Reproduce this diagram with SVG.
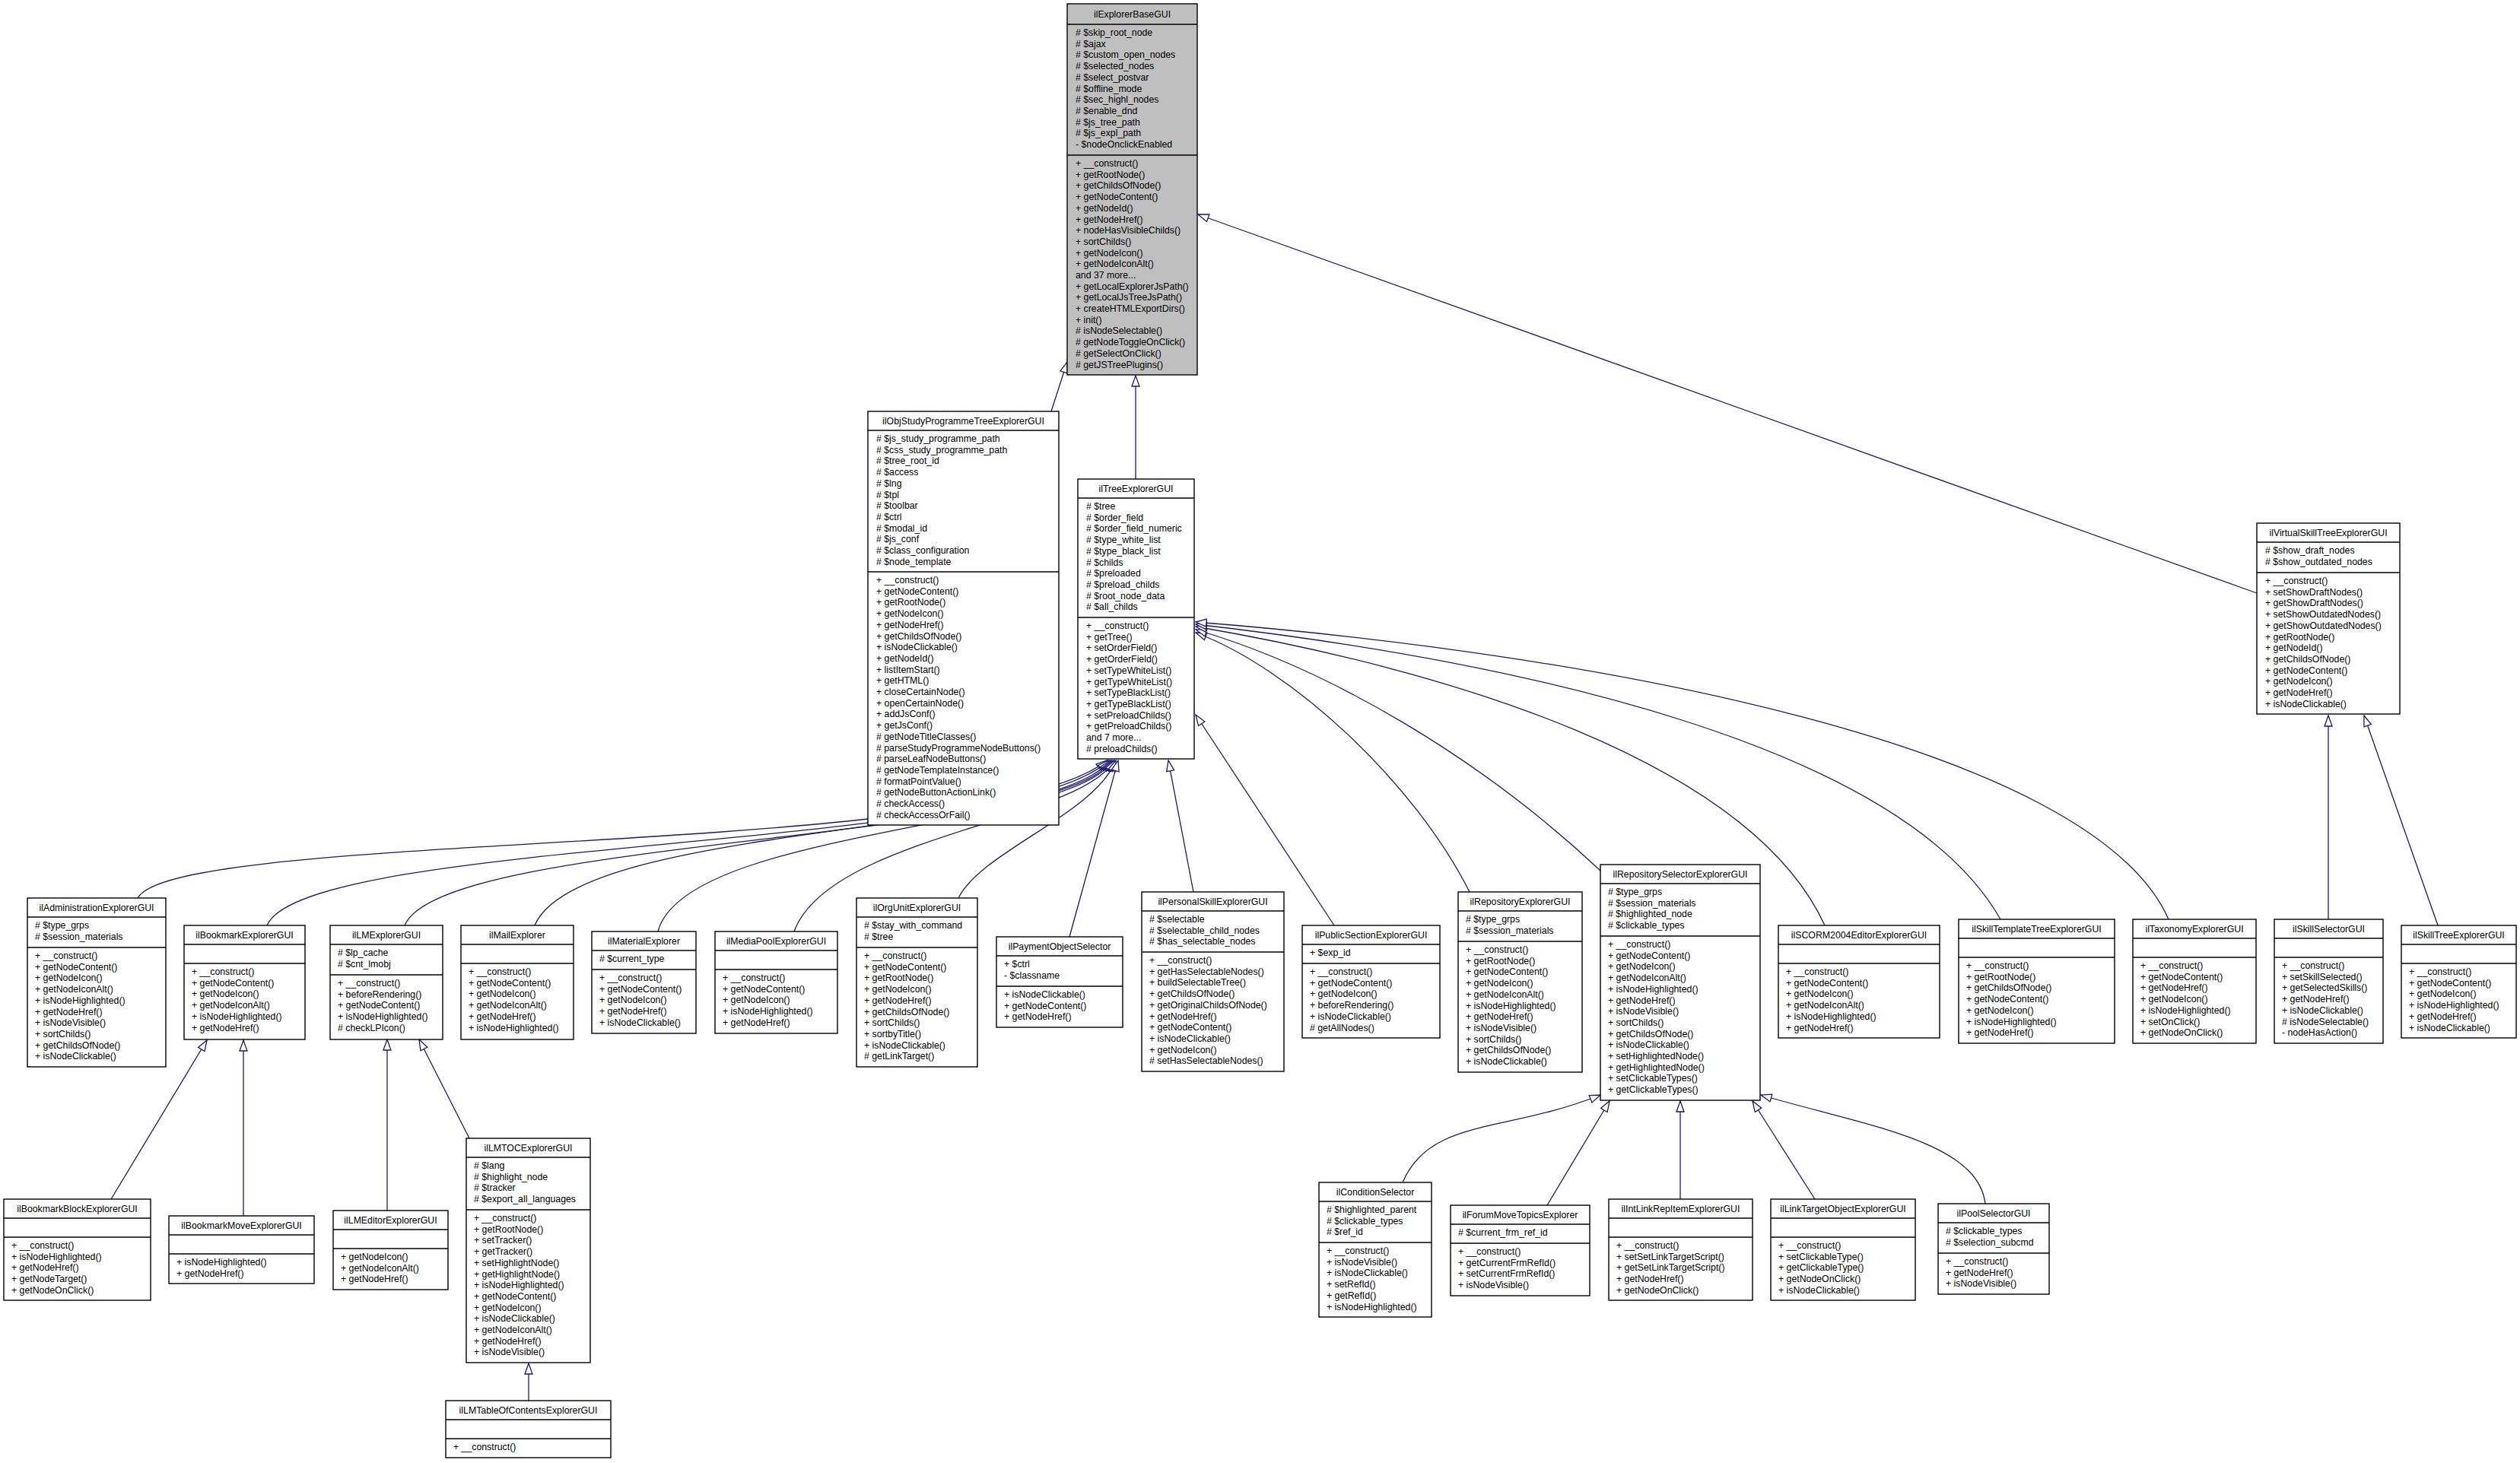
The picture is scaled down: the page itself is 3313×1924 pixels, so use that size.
<svg xmlns="http://www.w3.org/2000/svg" width="3313" height="1924" viewBox="0 0 3313 1924">
<style>
text{font-family:"Liberation Sans",Arial,sans-serif;font-size:12.3px;fill:#000}
.c{text-anchor:middle}
rect{fill:#fff;stroke:#000;stroke-width:1.4}
rect.g{fill:#bfbfbf}
line.s{stroke:#000;stroke-width:1.4}
#edges path{fill:none;stroke:#191970;stroke-width:1.3}
</style>
<defs>
<marker id="tri" markerUnits="userSpaceOnUse" markerWidth="16" markerHeight="12" refX="15" refY="6" orient="auto">
<path d="M1,1 L15,6 L1,11 Z" fill="#fff" stroke="#191970" stroke-width="1.3"/>
</marker>
</defs>
<g id="edges">
<path d="M1382,541 L1403,476" marker-end="url(#tri)"/>
<path d="M1493,630 L1493,494" marker-end="url(#tri)"/>
<path d="M2967,780 L1575,282" marker-end="url(#tri)"/>
<path d="M181,1181 C230,1090 1300,1130 1455,1000" marker-end="url(#tri)"/>
<path d="M351,1217 C400,1100 1340,1120 1457,1000" marker-end="url(#tri)"/>
<path d="M532,1217 C580,1100 1380,1110 1459,1000" marker-end="url(#tri)"/>
<path d="M703,1217 C760,1080 1400,1100 1461,1000" marker-end="url(#tri)"/>
<path d="M865,1225 C900,1090 1410,1090 1463,1000" marker-end="url(#tri)"/>
<path d="M1044,1225 C1090,1100 1420,1080 1465,1000" marker-end="url(#tri)"/>
<path d="M1260,1181 C1290,1120 1440,1070 1467,1000" marker-end="url(#tri)"/>
<path d="M1406,1232 L1470,1000" marker-end="url(#tri)"/>
<path d="M1569,1173 L1536,1000" marker-end="url(#tri)"/>
<path d="M1754,1217 L1572,940" marker-end="url(#tri)"/>
<path d="M1932,1173 C1860,1030 1700,880 1572,832" marker-end="url(#tri)"/>
<path d="M2104,1145 C1950,1000 1750,880 1572,828" marker-end="url(#tri)"/>
<path d="M2399,1217 C2300,1000 1900,880 1572,824" marker-end="url(#tri)"/>
<path d="M2630,1209 C2500,980 2000,870 1572,821" marker-end="url(#tri)"/>
<path d="M2851,1209 C2750,980 2100,860 1572,818" marker-end="url(#tri)"/>
<path d="M3061,1209 L3061,941" marker-end="url(#tri)"/>
<path d="M3205,1217 L3108,941" marker-end="url(#tri)"/>
<path d="M146,1577 L272,1368" marker-end="url(#tri)"/>
<path d="M320,1599 L320,1368" marker-end="url(#tri)"/>
<path d="M509,1592 L509,1367" marker-end="url(#tri)"/>
<path d="M617,1497 L551,1367" marker-end="url(#tri)"/>
<path d="M695,1842 L695,1793" marker-end="url(#tri)"/>
<path d="M1844,1555 C1880,1470 1980,1490 2104,1440" marker-end="url(#tri)"/>
<path d="M2034,1585 L2116,1448" marker-end="url(#tri)"/>
<path d="M2209,1577 L2209,1448" marker-end="url(#tri)"/>
<path d="M2386,1577 L2304,1448" marker-end="url(#tri)"/>
<path d="M2610,1583 C2600,1500 2450,1480 2315,1440" marker-end="url(#tri)"/>
</g>

<g id="ilExplorerBaseGUI">
<rect class="g" x="1403" y="5" width="171" height="488"/>
<line class="s" x1="1403" y1="32" x2="1574" y2="32"/><line class="s" x1="1403" y1="204" x2="1574" y2="204"/>
<text class="c" x="1488.5" y="23">ilExplorerBaseGUI</text>
<text x="1414" y="47"><tspan x="1414">&#35; $skip_root_node</tspan><tspan x="1414" dy="14.7"># $ajax</tspan><tspan x="1414" dy="14.7"># $custom_open_nodes</tspan><tspan x="1414" dy="14.7"># $selected_nodes</tspan><tspan x="1414" dy="14.7"># $select_postvar</tspan><tspan x="1414" dy="14.7"># $offline_mode</tspan><tspan x="1414" dy="14.7"># $sec_highl_nodes</tspan><tspan x="1414" dy="14.7"># $enable_dnd</tspan><tspan x="1414" dy="14.7"># $js_tree_path</tspan><tspan x="1414" dy="14.7"># $js_expl_path</tspan><tspan x="1414" dy="14.7">- $nodeOnclickEnabled</tspan></text>
<text x="1414" y="219"><tspan x="1414">+ __construct()</tspan><tspan x="1414" dy="14.7">+ getRootNode()</tspan><tspan x="1414" dy="14.7">+ getChildsOfNode()</tspan><tspan x="1414" dy="14.7">+ getNodeContent()</tspan><tspan x="1414" dy="14.7">+ getNodeId()</tspan><tspan x="1414" dy="14.7">+ getNodeHref()</tspan><tspan x="1414" dy="14.7">+ nodeHasVisibleChilds()</tspan><tspan x="1414" dy="14.7">+ sortChilds()</tspan><tspan x="1414" dy="14.7">+ getNodeIcon()</tspan><tspan x="1414" dy="14.7">+ getNodeIconAlt()</tspan><tspan x="1414" dy="14.7">and 37 more...</tspan><tspan x="1414" dy="14.7">+ getLocalExplorerJsPath()</tspan><tspan x="1414" dy="14.7">+ getLocalJsTreeJsPath()</tspan><tspan x="1414" dy="14.7">+ createHTMLExportDirs()</tspan><tspan x="1414" dy="14.7">+ init()</tspan><tspan x="1414" dy="14.7"># isNodeSelectable()</tspan><tspan x="1414" dy="14.7"># getNodeToggleOnClick()</tspan><tspan x="1414" dy="14.7"># getSelectOnClick()</tspan><tspan x="1414" dy="14.7"># getJSTreePlugins()</tspan></text>
</g>

<g id="ilObjStudyProgrammeTreeExplorerGUI">
<rect x="1141" y="541" width="251" height="544"/>
<line class="s" x1="1141" y1="566" x2="1392" y2="566"/><line class="s" x1="1141" y1="752" x2="1392" y2="752"/>
<text class="c" x="1266.5" y="558">ilObjStudyProgrammeTreeExplorerGUI</text>
<text x="1152" y="581"><tspan x="1152"># $js_study_programme_path</tspan><tspan x="1152" dy="14.7"># $css_study_programme_path</tspan><tspan x="1152" dy="14.7"># $tree_root_id</tspan><tspan x="1152" dy="14.7"># $access</tspan><tspan x="1152" dy="14.7"># $lng</tspan><tspan x="1152" dy="14.7"># $tpl</tspan><tspan x="1152" dy="14.7"># $toolbar</tspan><tspan x="1152" dy="14.7"># $ctrl</tspan><tspan x="1152" dy="14.7"># $modal_id</tspan><tspan x="1152" dy="14.7"># $js_conf</tspan><tspan x="1152" dy="14.7"># $class_configuration</tspan><tspan x="1152" dy="14.7"># $node_template</tspan></text>
<text x="1152" y="767"><tspan x="1152">+ __construct()</tspan><tspan x="1152" dy="14.7">+ getNodeContent()</tspan><tspan x="1152" dy="14.7">+ getRootNode()</tspan><tspan x="1152" dy="14.7">+ getNodeIcon()</tspan><tspan x="1152" dy="14.7">+ getNodeHref()</tspan><tspan x="1152" dy="14.7">+ getChildsOfNode()</tspan><tspan x="1152" dy="14.7">+ isNodeClickable()</tspan><tspan x="1152" dy="14.7">+ getNodeId()</tspan><tspan x="1152" dy="14.7">+ listItemStart()</tspan><tspan x="1152" dy="14.7">+ getHTML()</tspan><tspan x="1152" dy="14.7">+ closeCertainNode()</tspan><tspan x="1152" dy="14.7">+ openCertainNode()</tspan><tspan x="1152" dy="14.7">+ addJsConf()</tspan><tspan x="1152" dy="14.7">+ getJsConf()</tspan><tspan x="1152" dy="14.7"># getNodeTitleClasses()</tspan><tspan x="1152" dy="14.7"># parseStudyProgrammeNodeButtons()</tspan><tspan x="1152" dy="14.7"># parseLeafNodeButtons()</tspan><tspan x="1152" dy="14.7"># getNodeTemplateInstance()</tspan><tspan x="1152" dy="14.7"># formatPointValue()</tspan><tspan x="1152" dy="14.7"># getNodeButtonActionLink()</tspan><tspan x="1152" dy="14.7"># checkAccess()</tspan><tspan x="1152" dy="14.7"># checkAccessOrFail()</tspan></text>
</g>

<g id="ilTreeExplorerGUI">
<rect x="1417" y="630" width="153" height="368"/>
<line class="s" x1="1417" y1="655" x2="1570" y2="655"/><line class="s" x1="1417" y1="812" x2="1570" y2="812"/>
<text class="c" x="1493.5" y="647">ilTreeExplorerGUI</text>
<text x="1428" y="670"><tspan x="1428"># $tree</tspan><tspan x="1428" dy="14.7"># $order_field</tspan><tspan x="1428" dy="14.7"># $order_field_numeric</tspan><tspan x="1428" dy="14.7"># $type_white_list</tspan><tspan x="1428" dy="14.7"># $type_black_list</tspan><tspan x="1428" dy="14.7"># $childs</tspan><tspan x="1428" dy="14.7"># $preloaded</tspan><tspan x="1428" dy="14.7"># $preload_childs</tspan><tspan x="1428" dy="14.7"># $root_node_data</tspan><tspan x="1428" dy="14.7"># $all_childs</tspan></text>
<text x="1428" y="827"><tspan x="1428">+ __construct()</tspan><tspan x="1428" dy="14.7">+ getTree()</tspan><tspan x="1428" dy="14.7">+ setOrderField()</tspan><tspan x="1428" dy="14.7">+ getOrderField()</tspan><tspan x="1428" dy="14.7">+ setTypeWhiteList()</tspan><tspan x="1428" dy="14.7">+ getTypeWhiteList()</tspan><tspan x="1428" dy="14.7">+ setTypeBlackList()</tspan><tspan x="1428" dy="14.7">+ getTypeBlackList()</tspan><tspan x="1428" dy="14.7">+ setPreloadChilds()</tspan><tspan x="1428" dy="14.7">+ getPreloadChilds()</tspan><tspan x="1428" dy="14.7">and 7 more...</tspan><tspan x="1428" dy="14.7"># preloadChilds()</tspan></text>
</g>

<g id="ilVirtualSkillTreeExplorerGUI">
<rect x="2967" y="688" width="188" height="251"/>
<line class="s" x1="2967" y1="713" x2="3155" y2="713"/><line class="s" x1="2967" y1="753" x2="3155" y2="753"/>
<text class="c" x="3061" y="705">ilVirtualSkillTreeExplorerGUI</text>
<text x="2978" y="728"><tspan x="2978"># $show_draft_nodes</tspan><tspan x="2978" dy="14.7"># $show_outdated_nodes</tspan></text>
<text x="2978" y="768"><tspan x="2978">+ __construct()</tspan><tspan x="2978" dy="14.7">+ setShowDraftNodes()</tspan><tspan x="2978" dy="14.7">+ getShowDraftNodes()</tspan><tspan x="2978" dy="14.7">+ setShowOutdatedNodes()</tspan><tspan x="2978" dy="14.7">+ getShowOutdatedNodes()</tspan><tspan x="2978" dy="14.7">+ getRootNode()</tspan><tspan x="2978" dy="14.7">+ getNodeId()</tspan><tspan x="2978" dy="14.7">+ getChildsOfNode()</tspan><tspan x="2978" dy="14.7">+ getNodeContent()</tspan><tspan x="2978" dy="14.7">+ getNodeIcon()</tspan><tspan x="2978" dy="14.7">+ getNodeHref()</tspan><tspan x="2978" dy="14.7">+ isNodeClickable()</tspan></text>
</g>

<g id="ilAdministrationExplorerGUI">
<rect x="36" y="1181" width="182" height="222"/>
<line class="s" x1="36" y1="1206" x2="218" y2="1206"/><line class="s" x1="36" y1="1246" x2="218" y2="1246"/>
<text class="c" x="127" y="1198">ilAdministrationExplorerGUI</text>
<text x="46" y="1221"><tspan x="46"># $type_grps</tspan><tspan x="46" dy="14.7"># $session_materials</tspan></text>
<text x="46" y="1261"><tspan x="46">+ __construct()</tspan><tspan x="46" dy="14.7">+ getNodeContent()</tspan><tspan x="46" dy="14.7">+ getNodeIcon()</tspan><tspan x="46" dy="14.7">+ getNodeIconAlt()</tspan><tspan x="46" dy="14.7">+ isNodeHighlighted()</tspan><tspan x="46" dy="14.7">+ getNodeHref()</tspan><tspan x="46" dy="14.7">+ isNodeVisible()</tspan><tspan x="46" dy="14.7">+ sortChilds()</tspan><tspan x="46" dy="14.7">+ getChildsOfNode()</tspan><tspan x="46" dy="14.7">+ isNodeClickable()</tspan></text>
</g>

<g id="ilBookmarkExplorerGUI">
<rect x="242" y="1217" width="159" height="150"/>
<line class="s" x1="242" y1="1242" x2="401" y2="1242"/><line class="s" x1="242" y1="1267" x2="401" y2="1267"/>
<text class="c" x="321.5" y="1234">ilBookmarkExplorerGUI</text>
<text x="252" y="1282"><tspan x="252">+ __construct()</tspan><tspan x="252" dy="14.7">+ getNodeContent()</tspan><tspan x="252" dy="14.7">+ getNodeIcon()</tspan><tspan x="252" dy="14.7">+ getNodeIconAlt()</tspan><tspan x="252" dy="14.7">+ isNodeHighlighted()</tspan><tspan x="252" dy="14.7">+ getNodeHref()</tspan></text>
</g>

<g id="ilLMExplorerGUI">
<rect x="434" y="1217" width="148" height="150"/>
<line class="s" x1="434" y1="1242" x2="582" y2="1242"/><line class="s" x1="434" y1="1282" x2="582" y2="1282"/>
<text class="c" x="508" y="1234">ilLMExplorerGUI</text>
<text x="444" y="1257"><tspan x="444"># $lp_cache</tspan><tspan x="444" dy="14.7"># $cnt_lmobj</tspan></text>
<text x="444" y="1297"><tspan x="444">+ __construct()</tspan><tspan x="444" dy="14.7">+ beforeRendering()</tspan><tspan x="444" dy="14.7">+ getNodeContent()</tspan><tspan x="444" dy="14.7">+ isNodeHighlighted()</tspan><tspan x="444" dy="14.7"># checkLPIcon()</tspan></text>
</g>

<g id="ilMailExplorer">
<rect x="606" y="1217" width="148" height="150"/>
<line class="s" x1="606" y1="1242" x2="754" y2="1242"/><line class="s" x1="606" y1="1267" x2="754" y2="1267"/>
<text class="c" x="680" y="1234">ilMailExplorer</text>
<text x="616" y="1282"><tspan x="616">+ __construct()</tspan><tspan x="616" dy="14.7">+ getNodeContent()</tspan><tspan x="616" dy="14.7">+ getNodeIcon()</tspan><tspan x="616" dy="14.7">+ getNodeIconAlt()</tspan><tspan x="616" dy="14.7">+ getNodeHref()</tspan><tspan x="616" dy="14.7">+ isNodeHighlighted()</tspan></text>
</g>

<g id="ilMaterialExplorer">
<rect x="778" y="1225" width="137" height="134"/>
<line class="s" x1="778" y1="1250" x2="915" y2="1250"/><line class="s" x1="778" y1="1275" x2="915" y2="1275"/>
<text class="c" x="846.5" y="1242">ilMaterialExplorer</text>
<text x="788" y="1265"># $current_type</text>
<text x="788" y="1290"><tspan x="788">+ __construct()</tspan><tspan x="788" dy="14.7">+ getNodeContent()</tspan><tspan x="788" dy="14.7">+ getNodeIcon()</tspan><tspan x="788" dy="14.7">+ getNodeHref()</tspan><tspan x="788" dy="14.7">+ isNodeClickable()</tspan></text>
</g>

<g id="ilMediaPoolExplorerGUI">
<rect x="940" y="1225" width="161" height="134"/>
<line class="s" x1="940" y1="1250" x2="1101" y2="1250"/><line class="s" x1="940" y1="1275" x2="1101" y2="1275"/>
<text class="c" x="1020.5" y="1242">ilMediaPoolExplorerGUI</text>
<text x="950" y="1290"><tspan x="950">+ __construct()</tspan><tspan x="950" dy="14.7">+ getNodeContent()</tspan><tspan x="950" dy="14.7">+ getNodeIcon()</tspan><tspan x="950" dy="14.7">+ isNodeHighlighted()</tspan><tspan x="950" dy="14.7">+ getNodeHref()</tspan></text>
</g>

<g id="ilOrgUnitExplorerGUI">
<rect x="1126" y="1181" width="159" height="222"/>
<line class="s" x1="1126" y1="1206" x2="1285" y2="1206"/><line class="s" x1="1126" y1="1246" x2="1285" y2="1246"/>
<text class="c" x="1205.5" y="1198">ilOrgUnitExplorerGUI</text>
<text x="1136" y="1221"><tspan x="1136"># $stay_with_command</tspan><tspan x="1136" dy="14.7"># $tree</tspan></text>
<text x="1136" y="1261"><tspan x="1136">+ __construct()</tspan><tspan x="1136" dy="14.7">+ getNodeContent()</tspan><tspan x="1136" dy="14.7">+ getRootNode()</tspan><tspan x="1136" dy="14.7">+ getNodeIcon()</tspan><tspan x="1136" dy="14.7">+ getNodeHref()</tspan><tspan x="1136" dy="14.7">+ getChildsOfNode()</tspan><tspan x="1136" dy="14.7">+ sortChilds()</tspan><tspan x="1136" dy="14.7">+ sortbyTitle()</tspan><tspan x="1136" dy="14.7">+ isNodeClickable()</tspan><tspan x="1136" dy="14.7"># getLinkTarget()</tspan></text>
</g>

<g id="ilPaymentObjectSelector">
<rect x="1310" y="1232" width="166" height="119"/>
<line class="s" x1="1310" y1="1257" x2="1476" y2="1257"/><line class="s" x1="1310" y1="1297" x2="1476" y2="1297"/>
<text class="c" x="1393" y="1249">ilPaymentObjectSelector</text>
<text x="1320" y="1272"><tspan x="1320">+ $ctrl</tspan><tspan x="1320" dy="14.7">- $classname</tspan></text>
<text x="1320" y="1312"><tspan x="1320">+ isNodeClickable()</tspan><tspan x="1320" dy="14.7">+ getNodeContent()</tspan><tspan x="1320" dy="14.7">+ getNodeHref()</tspan></text>
</g>

<g id="ilPersonalSkillExplorerGUI">
<rect x="1501" y="1173" width="187" height="236"/>
<line class="s" x1="1501" y1="1198" x2="1688" y2="1198"/><line class="s" x1="1501" y1="1252" x2="1688" y2="1252"/>
<text class="c" x="1594.5" y="1190">ilPersonalSkillExplorerGUI</text>
<text x="1511" y="1213"><tspan x="1511"># $selectable</tspan><tspan x="1511" dy="14.7"># $selectable_child_nodes</tspan><tspan x="1511" dy="14.7"># $has_selectable_nodes</tspan></text>
<text x="1511" y="1267"><tspan x="1511">+ __construct()</tspan><tspan x="1511" dy="14.7">+ getHasSelectableNodes()</tspan><tspan x="1511" dy="14.7">+ buildSelectableTree()</tspan><tspan x="1511" dy="14.7">+ getChildsOfNode()</tspan><tspan x="1511" dy="14.7">+ getOriginalChildsOfNode()</tspan><tspan x="1511" dy="14.7">+ getNodeHref()</tspan><tspan x="1511" dy="14.7">+ getNodeContent()</tspan><tspan x="1511" dy="14.7">+ isNodeClickable()</tspan><tspan x="1511" dy="14.7">+ getNodeIcon()</tspan><tspan x="1511" dy="14.7"># setHasSelectableNodes()</tspan></text>
</g>

<g id="ilPublicSectionExplorerGUI">
<rect x="1712" y="1217" width="181" height="148"/>
<line class="s" x1="1712" y1="1242" x2="1893" y2="1242"/><line class="s" x1="1712" y1="1267" x2="1893" y2="1267"/>
<text class="c" x="1802.5" y="1234">ilPublicSectionExplorerGUI</text>
<text x="1722" y="1257">+ $exp_id</text>
<text x="1722" y="1282"><tspan x="1722">+ __construct()</tspan><tspan x="1722" dy="14.7">+ getNodeContent()</tspan><tspan x="1722" dy="14.7">+ getNodeIcon()</tspan><tspan x="1722" dy="14.7">+ beforeRendering()</tspan><tspan x="1722" dy="14.7">+ isNodeClickable()</tspan><tspan x="1722" dy="14.7"># getAllNodes()</tspan></text>
</g>

<g id="ilRepositoryExplorerGUI">
<rect x="1917" y="1173" width="163" height="237"/>
<line class="s" x1="1917" y1="1198" x2="2080" y2="1198"/><line class="s" x1="1917" y1="1238" x2="2080" y2="1238"/>
<text class="c" x="1998.5" y="1190">ilRepositoryExplorerGUI</text>
<text x="1927" y="1213"><tspan x="1927"># $type_grps</tspan><tspan x="1927" dy="14.7"># $session_materials</tspan></text>
<text x="1927" y="1253"><tspan x="1927">+ __construct()</tspan><tspan x="1927" dy="14.7">+ getRootNode()</tspan><tspan x="1927" dy="14.7">+ getNodeContent()</tspan><tspan x="1927" dy="14.7">+ getNodeIcon()</tspan><tspan x="1927" dy="14.7">+ getNodeIconAlt()</tspan><tspan x="1927" dy="14.7">+ isNodeHighlighted()</tspan><tspan x="1927" dy="14.7">+ getNodeHref()</tspan><tspan x="1927" dy="14.7">+ isNodeVisible()</tspan><tspan x="1927" dy="14.7">+ sortChilds()</tspan><tspan x="1927" dy="14.7">+ getChildsOfNode()</tspan><tspan x="1927" dy="14.7">+ isNodeClickable()</tspan></text>
</g>

<g id="ilRepositorySelectorExplorerGUI">
<rect x="2104" y="1137" width="210" height="310"/>
<line class="s" x1="2104" y1="1162" x2="2314" y2="1162"/><line class="s" x1="2104" y1="1231" x2="2314" y2="1231"/>
<text class="c" x="2209" y="1154">ilRepositorySelectorExplorerGUI</text>
<text x="2114" y="1177"><tspan x="2114"># $type_grps</tspan><tspan x="2114" dy="14.7"># $session_materials</tspan><tspan x="2114" dy="14.7"># $highlighted_node</tspan><tspan x="2114" dy="14.7"># $clickable_types</tspan></text>
<text x="2114" y="1246"><tspan x="2114">+ __construct()</tspan><tspan x="2114" dy="14.7">+ getNodeContent()</tspan><tspan x="2114" dy="14.7">+ getNodeIcon()</tspan><tspan x="2114" dy="14.7">+ getNodeIconAlt()</tspan><tspan x="2114" dy="14.7">+ isNodeHighlighted()</tspan><tspan x="2114" dy="14.7">+ getNodeHref()</tspan><tspan x="2114" dy="14.7">+ isNodeVisible()</tspan><tspan x="2114" dy="14.7">+ sortChilds()</tspan><tspan x="2114" dy="14.7">+ getChildsOfNode()</tspan><tspan x="2114" dy="14.7">+ isNodeClickable()</tspan><tspan x="2114" dy="14.7">+ setHighlightedNode()</tspan><tspan x="2114" dy="14.7">+ getHighlightedNode()</tspan><tspan x="2114" dy="14.7">+ setClickableTypes()</tspan><tspan x="2114" dy="14.7">+ getClickableTypes()</tspan></text>
</g>

<g id="ilSCORM2004EditorExplorerGUI">
<rect x="2338" y="1217" width="212" height="148"/>
<line class="s" x1="2338" y1="1242" x2="2550" y2="1242"/><line class="s" x1="2338" y1="1267" x2="2550" y2="1267"/>
<text class="c" x="2444" y="1234">ilSCORM2004EditorExplorerGUI</text>
<text x="2348" y="1282"><tspan x="2348">+ __construct()</tspan><tspan x="2348" dy="14.7">+ getNodeContent()</tspan><tspan x="2348" dy="14.7">+ getNodeIcon()</tspan><tspan x="2348" dy="14.7">+ getNodeIconAlt()</tspan><tspan x="2348" dy="14.7">+ isNodeHighlighted()</tspan><tspan x="2348" dy="14.7">+ getNodeHref()</tspan></text>
</g>

<g id="ilSkillTemplateTreeExplorerGUI">
<rect x="2575" y="1209" width="205" height="163"/>
<line class="s" x1="2575" y1="1234" x2="2780" y2="1234"/><line class="s" x1="2575" y1="1259" x2="2780" y2="1259"/>
<text class="c" x="2677.5" y="1226">ilSkillTemplateTreeExplorerGUI</text>
<text x="2585" y="1274"><tspan x="2585">+ __construct()</tspan><tspan x="2585" dy="14.7">+ getRootNode()</tspan><tspan x="2585" dy="14.7">+ getChildsOfNode()</tspan><tspan x="2585" dy="14.7">+ getNodeContent()</tspan><tspan x="2585" dy="14.7">+ getNodeIcon()</tspan><tspan x="2585" dy="14.7">+ isNodeHighlighted()</tspan><tspan x="2585" dy="14.7">+ getNodeHref()</tspan></text>
</g>

<g id="ilTaxonomyExplorerGUI">
<rect x="2804" y="1209" width="162" height="163"/>
<line class="s" x1="2804" y1="1234" x2="2966" y2="1234"/><line class="s" x1="2804" y1="1259" x2="2966" y2="1259"/>
<text class="c" x="2885" y="1226">ilTaxonomyExplorerGUI</text>
<text x="2814" y="1274"><tspan x="2814">+ __construct()</tspan><tspan x="2814" dy="14.7">+ getNodeContent()</tspan><tspan x="2814" dy="14.7">+ getNodeHref()</tspan><tspan x="2814" dy="14.7">+ getNodeIcon()</tspan><tspan x="2814" dy="14.7">+ isNodeHighlighted()</tspan><tspan x="2814" dy="14.7">+ setOnClick()</tspan><tspan x="2814" dy="14.7">+ getNodeOnClick()</tspan></text>
</g>

<g id="ilSkillSelectorGUI">
<rect x="2990" y="1209" width="143" height="163"/>
<line class="s" x1="2990" y1="1234" x2="3133" y2="1234"/><line class="s" x1="2990" y1="1259" x2="3133" y2="1259"/>
<text class="c" x="3061.5" y="1226">ilSkillSelectorGUI</text>
<text x="3000" y="1274"><tspan x="3000">+ __construct()</tspan><tspan x="3000" dy="14.7">+ setSkillSelected()</tspan><tspan x="3000" dy="14.7">+ getSelectedSkills()</tspan><tspan x="3000" dy="14.7">+ getNodeHref()</tspan><tspan x="3000" dy="14.7">+ isNodeClickable()</tspan><tspan x="3000" dy="14.7"># isNodeSelectable()</tspan><tspan x="3000" dy="14.7">- nodeHasAction()</tspan></text>
</g>

<g id="ilSkillTreeExplorerGUI">
<rect x="3157" y="1217" width="151" height="148"/>
<line class="s" x1="3157" y1="1242" x2="3308" y2="1242"/><line class="s" x1="3157" y1="1267" x2="3308" y2="1267"/>
<text class="c" x="3232.5" y="1234">ilSkillTreeExplorerGUI</text>
<text x="3167" y="1282"><tspan x="3167">+ __construct()</tspan><tspan x="3167" dy="14.7">+ getNodeContent()</tspan><tspan x="3167" dy="14.7">+ getNodeIcon()</tspan><tspan x="3167" dy="14.7">+ isNodeHighlighted()</tspan><tspan x="3167" dy="14.7">+ getNodeHref()</tspan><tspan x="3167" dy="14.7">+ isNodeClickable()</tspan></text>
</g>

<g id="ilBookmarkBlockExplorerGUI">
<rect x="5" y="1577" width="193" height="133"/>
<line class="s" x1="5" y1="1602" x2="198" y2="1602"/><line class="s" x1="5" y1="1627" x2="198" y2="1627"/>
<text class="c" x="101.5" y="1594">ilBookmarkBlockExplorerGUI</text>
<text x="15" y="1642"><tspan x="15">+ __construct()</tspan><tspan x="15" dy="14.7">+ isNodeHighlighted()</tspan><tspan x="15" dy="14.7">+ getNodeHref()</tspan><tspan x="15" dy="14.7">+ getNodeTarget()</tspan><tspan x="15" dy="14.7">+ getNodeOnClick()</tspan></text>
</g>

<g id="ilBookmarkMoveExplorerGUI">
<rect x="222" y="1599" width="191" height="89"/>
<line class="s" x1="222" y1="1624" x2="413" y2="1624"/><line class="s" x1="222" y1="1649" x2="413" y2="1649"/>
<text class="c" x="317.5" y="1616">ilBookmarkMoveExplorerGUI</text>
<text x="232" y="1664"><tspan x="232">+ isNodeHighlighted()</tspan><tspan x="232" dy="14.7">+ getNodeHref()</tspan></text>
</g>

<g id="ilLMEditorExplorerGUI">
<rect x="438" y="1592" width="151" height="104"/>
<line class="s" x1="438" y1="1617" x2="589" y2="1617"/><line class="s" x1="438" y1="1642" x2="589" y2="1642"/>
<text class="c" x="513.5" y="1609">ilLMEditorExplorerGUI</text>
<text x="448" y="1657"><tspan x="448">+ getNodeIcon()</tspan><tspan x="448" dy="14.7">+ getNodeIconAlt()</tspan><tspan x="448" dy="14.7">+ getNodeHref()</tspan></text>
</g>

<g id="ilLMTOCExplorerGUI">
<rect x="613" y="1497" width="163" height="295"/>
<line class="s" x1="613" y1="1522" x2="776" y2="1522"/><line class="s" x1="613" y1="1591" x2="776" y2="1591"/>
<text class="c" x="694.5" y="1514">ilLMTOCExplorerGUI</text>
<text x="623" y="1537"><tspan x="623"># $lang</tspan><tspan x="623" dy="14.7"># $highlight_node</tspan><tspan x="623" dy="14.7"># $tracker</tspan><tspan x="623" dy="14.7"># $export_all_languages</tspan></text>
<text x="623" y="1606"><tspan x="623">+ __construct()</tspan><tspan x="623" dy="14.7">+ getRootNode()</tspan><tspan x="623" dy="14.7">+ setTracker()</tspan><tspan x="623" dy="14.7">+ getTracker()</tspan><tspan x="623" dy="14.7">+ setHighlightNode()</tspan><tspan x="623" dy="14.7">+ getHighlightNode()</tspan><tspan x="623" dy="14.7">+ isNodeHighlighted()</tspan><tspan x="623" dy="14.7">+ getNodeContent()</tspan><tspan x="623" dy="14.7">+ getNodeIcon()</tspan><tspan x="623" dy="14.7">+ isNodeClickable()</tspan><tspan x="623" dy="14.7">+ getNodeIconAlt()</tspan><tspan x="623" dy="14.7">+ getNodeHref()</tspan><tspan x="623" dy="14.7">+ isNodeVisible()</tspan></text>
</g>

<g id="ilLMTableOfContentsExplorerGUI">
<rect x="586" y="1842" width="217" height="75"/>
<line class="s" x1="586" y1="1867" x2="803" y2="1867"/><line class="s" x1="586" y1="1892" x2="803" y2="1892"/>
<text class="c" x="694.5" y="1859">ilLMTableOfContentsExplorerGUI</text>
<text x="596" y="1907">+ __construct()</text>
</g>

<g id="ilConditionSelector">
<rect x="1734" y="1555" width="148" height="177"/>
<line class="s" x1="1734" y1="1580" x2="1882" y2="1580"/><line class="s" x1="1734" y1="1634" x2="1882" y2="1634"/>
<text class="c" x="1808" y="1572">ilConditionSelector</text>
<text x="1744" y="1595"><tspan x="1744"># $highlighted_parent</tspan><tspan x="1744" dy="14.7"># $clickable_types</tspan><tspan x="1744" dy="14.7"># $ref_id</tspan></text>
<text x="1744" y="1649"><tspan x="1744">+ __construct()</tspan><tspan x="1744" dy="14.7">+ isNodeVisible()</tspan><tspan x="1744" dy="14.7">+ isNodeClickable()</tspan><tspan x="1744" dy="14.7">+ setRefId()</tspan><tspan x="1744" dy="14.7">+ getRefId()</tspan><tspan x="1744" dy="14.7">+ isNodeHighlighted()</tspan></text>
</g>

<g id="ilForumMoveTopicsExplorer">
<rect x="1907" y="1585" width="183" height="119"/>
<line class="s" x1="1907" y1="1610" x2="2090" y2="1610"/><line class="s" x1="1907" y1="1635" x2="2090" y2="1635"/>
<text class="c" x="1998.5" y="1602">ilForumMoveTopicsExplorer</text>
<text x="1917" y="1625"># $current_frm_ref_id</text>
<text x="1917" y="1650"><tspan x="1917">+ __construct()</tspan><tspan x="1917" dy="14.7">+ getCurrentFrmRefId()</tspan><tspan x="1917" dy="14.7">+ setCurrentFrmRefId()</tspan><tspan x="1917" dy="14.7">+ isNodeVisible()</tspan></text>
</g>

<g id="ilIntLinkRepItemExplorerGUI">
<rect x="2115" y="1577" width="189" height="133"/>
<line class="s" x1="2115" y1="1602" x2="2304" y2="1602"/><line class="s" x1="2115" y1="1627" x2="2304" y2="1627"/>
<text class="c" x="2209.5" y="1594">ilIntLinkRepItemExplorerGUI</text>
<text x="2125" y="1642"><tspan x="2125">+ __construct()</tspan><tspan x="2125" dy="14.7">+ setSetLinkTargetScript()</tspan><tspan x="2125" dy="14.7">+ getSetLinkTargetScript()</tspan><tspan x="2125" dy="14.7">+ getNodeHref()</tspan><tspan x="2125" dy="14.7">+ getNodeOnClick()</tspan></text>
</g>

<g id="ilLinkTargetObjectExplorerGUI">
<rect x="2328" y="1577" width="190" height="133"/>
<line class="s" x1="2328" y1="1602" x2="2518" y2="1602"/><line class="s" x1="2328" y1="1627" x2="2518" y2="1627"/>
<text class="c" x="2423" y="1594">ilLinkTargetObjectExplorerGUI</text>
<text x="2338" y="1642"><tspan x="2338">+ __construct()</tspan><tspan x="2338" dy="14.7">+ setClickableType()</tspan><tspan x="2338" dy="14.7">+ getClickableType()</tspan><tspan x="2338" dy="14.7">+ getNodeOnClick()</tspan><tspan x="2338" dy="14.7">+ isNodeClickable()</tspan></text>
</g>

<g id="ilPoolSelectorGUI">
<rect x="2548" y="1583" width="146" height="119"/>
<line class="s" x1="2548" y1="1608" x2="2694" y2="1608"/><line class="s" x1="2548" y1="1648" x2="2694" y2="1648"/>
<text class="c" x="2621" y="1600">ilPoolSelectorGUI</text>
<text x="2558" y="1623"><tspan x="2558"># $clickable_types</tspan><tspan x="2558" dy="14.7"># $selection_subcmd</tspan></text>
<text x="2558" y="1663"><tspan x="2558">+ __construct()</tspan><tspan x="2558" dy="14.7">+ getNodeHref()</tspan><tspan x="2558" dy="14.7">+ isNodeVisible()</tspan></text>
</g>
</svg>
